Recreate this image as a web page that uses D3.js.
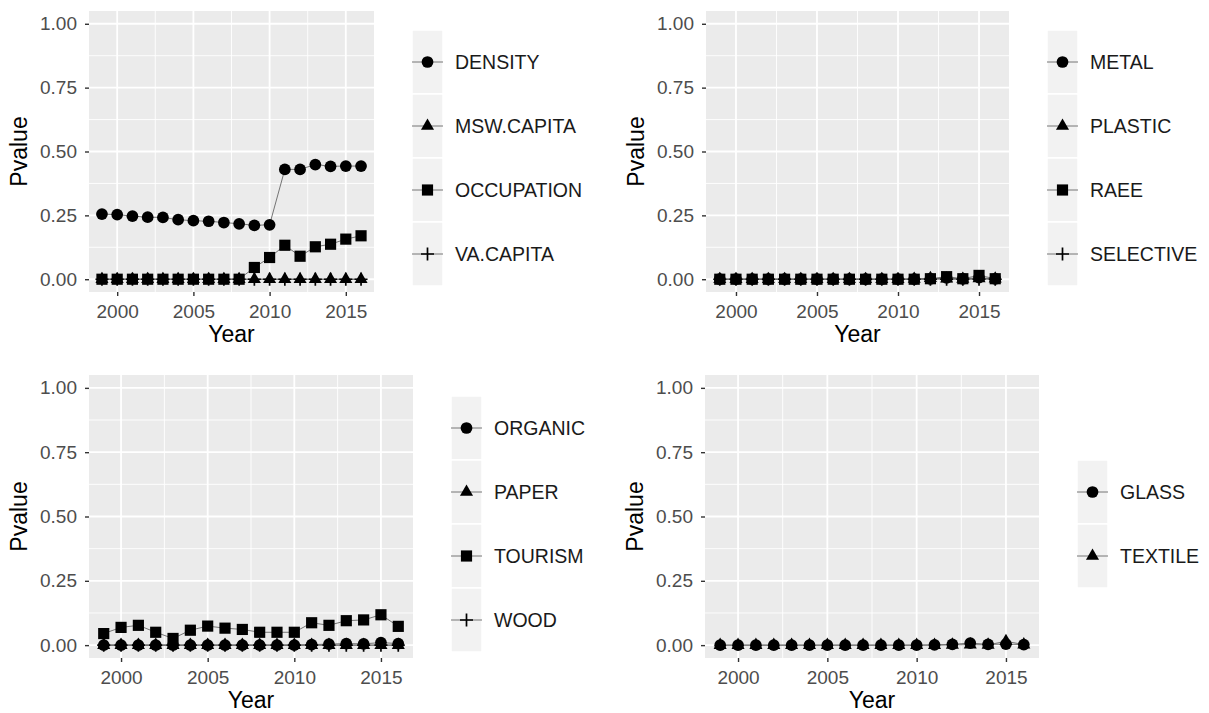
<!DOCTYPE html>
<html>
<head>
<meta charset="utf-8">
<script src="https://cdn.jsdelivr.net/npm/d3@7"></script>
<style>
  html, body { margin: 0; padding: 0; background: #ffffff; }
  svg { display: block; font-family: "Liberation Sans", Arial, sans-serif; }
</style>
</head>
<body>
<svg id="chart" width="1209" height="713"></svg>
<script>
// ---------- data ----------
const years = [1999, 2000, 2001, 2002, 2003, 2004, 2005, 2006, 2007, 2008, 2009, 2010, 2011, 2012, 2013, 2014, 2015, 2016];
const xTicks = [2000, 2005, 2010, 2015];
const yTicks = [0, 0.25, 0.5, 0.75, 1];
const yTickLabels = ["0.00", "0.25", "0.50", "0.75", "1.00"];
const xTitle = "Year";
const yTitle = "Pvalue";

// panel 1
const density    = [0.255, 0.253, 0.247, 0.243, 0.242, 0.233, 0.229, 0.227, 0.222, 0.217, 0.211, 0.213, 0.430, 0.430, 0.449, 0.442, 0.443, 0.443];
const mswCapita  = [0, 0, 0, 0, 0, 0, 0, 0, 0, 0, 0, 0, 0, 0, 0, 0, 0, 0];
const occupation = [0, 0, 0, 0, 0, 0, 0, 0, 0, 0, 0.046, 0.085, 0.133, 0.090, 0.127, 0.137, 0.157, 0.170];
const vaCapita   = [0, 0, 0, 0, 0, 0, 0, 0, 0, 0, 0, 0, 0, 0, 0, 0, 0, 0];
// panel 2
const metal      = [0, 0, 0, 0, 0, 0, 0, 0, 0, 0, 0, 0, 0, 0.001, 0.005, 0.001, 0.006, 0.001];
const plastic    = [0, 0, 0, 0, 0, 0, 0, 0, 0, 0, 0, 0, 0.001, 0.004, 0.002, 0.001, 0.003, 0.002];
const raee       = [0, 0, 0, 0, 0, 0, 0, 0, 0, 0, 0, 0, 0, 0.002, 0.010, 0.002, 0.015, 0.002];
const selective  = [0, 0, 0, 0, 0, 0, 0, 0, 0, 0, 0, 0, 0, 0, 0, 0, 0, 0];
// panel 3
const organic    = [0, 0, 0, 0, 0, 0, 0, 0, 0, 0, 0, 0, 0.002, 0.004, 0.006, 0.005, 0.010, 0.006];
const paper      = [0, 0, 0, 0, 0, 0, 0, 0, 0, 0, 0, 0, 0, 0, 0, 0, 0, 0];
const tourism    = [0.045, 0.069, 0.077, 0.050, 0.026, 0.058, 0.074, 0.066, 0.061, 0.050, 0.050, 0.050, 0.087, 0.077, 0.095, 0.098, 0.118, 0.073];
const wood       = [0, 0, 0, 0, 0, 0, 0, 0, 0, 0, 0, 0, 0, 0, 0, 0, 0, 0];
// panel 4
const glass      = [0, 0, 0, 0, 0, 0, 0, 0, 0, 0, 0, 0, 0.001, 0.003, 0.008, 0.003, 0.004, 0.002];
const textile    = [0, 0, 0, 0, 0, 0, 0, 0, 0, 0, 0, 0, 0, 0.001, 0.002, 0.001, 0.015, 0.002];

const shapes = ["circle", "triangle", "square", "plus"];

// ---------- layout ----------
const panels = [
  { left: 89,  right: 374,  top: 11,  bottom: 292, legendTop: 30,
    series: [["DENSITY", density], ["MSW.CAPITA", mswCapita], ["OCCUPATION", occupation], ["VA.CAPITA", vaCapita]] },
  { left: 706, right: 1009, top: 11,  bottom: 292, legendTop: 30,
    series: [["METAL", metal], ["PLASTIC", plastic], ["RAEE", raee], ["SELECTIVE", selective]] },
  { left: 89,  right: 413,  top: 375, bottom: 658, legendTop: 396,
    series: [["ORGANIC", organic], ["PAPER", paper], ["TOURISM", tourism], ["WOOD", wood]] },
  { left: 705, right: 1039, top: 375, bottom: 658, legendTop: 460,
    series: [["GLASS", glass], ["TEXTILE", textile]] }
];

const svg = d3.select("#chart");

function drawShape(g, shape, x, y) {
  if (shape === "plus") {
    const s = 6.5;
    g.append("path")
      .attr("d", `M${x - s},${y}H${x + s}M${x},${y - s}V${y + s}`)
      .attr("stroke", "#000").attr("stroke-width", 1.7).attr("fill", "none");
  } else {
    const type = shape === "circle" ? d3.symbolCircle : shape === "triangle" ? d3.symbolTriangle : d3.symbolSquare;
    const size = shape === "circle" ? 108 : shape === "triangle" ? 74 : 125;
    g.append("path")
      .attr("d", d3.symbol().type(type).size(size)())
      .attr("transform", `translate(${x},${y})`)
      .attr("fill", "#000");
  }
}

panels.forEach(p => {
  const x = d3.scaleLinear()
    .domain([years[0] - 0.05 * (years[years.length - 1] - years[0]), years[years.length - 1] + 0.05 * (years[years.length - 1] - years[0])])
    .range([p.left, p.right]);
  const y = d3.scaleLinear().domain([-0.05, 1.05]).range([p.bottom, p.top]);
  const g = svg.append("g");

  // background
  g.append("rect").attr("x", p.left).attr("y", p.top)
    .attr("width", p.right - p.left).attr("height", p.bottom - p.top).attr("fill", "#EBEBEB");

  // minor grid
  const minorX = [2002.5, 2007.5, 2012.5];
  const minorY = [0.125, 0.375, 0.625, 0.875];
  g.selectAll(".mnx").data(minorX).enter().append("line")
    .attr("x1", d => x(d)).attr("x2", d => x(d)).attr("y1", p.top).attr("y2", p.bottom)
    .attr("stroke", "#fff").attr("stroke-width", 0.9);
  g.selectAll(".mny").data(minorY).enter().append("line")
    .attr("y1", d => y(d)).attr("y2", d => y(d)).attr("x1", p.left).attr("x2", p.right)
    .attr("stroke", "#fff").attr("stroke-width", 0.9);
  // major grid
  g.selectAll(".mjx").data(xTicks).enter().append("line")
    .attr("x1", d => x(d)).attr("x2", d => x(d)).attr("y1", p.top).attr("y2", p.bottom)
    .attr("stroke", "#fff").attr("stroke-width", 1.8);
  g.selectAll(".mjy").data(yTicks).enter().append("line")
    .attr("y1", d => y(d)).attr("y2", d => y(d)).attr("x1", p.left).attr("x2", p.right)
    .attr("stroke", "#fff").attr("stroke-width", 1.8);

  // axes
  const xAxis = d3.axisBottom(x).tickValues(xTicks).tickFormat(d3.format("d")).tickSize(4).tickPadding(9);
  const ax = g.append("g").attr("transform", `translate(0,${p.bottom})`).call(xAxis);
  ax.select(".domain").remove();
  ax.selectAll("line").attr("stroke", "#333").attr("stroke-width", 1.4);
  ax.selectAll("text").attr("fill", "#4D4D4D").attr("font-size", 19).attr("font-family", "Liberation Sans, Arial, sans-serif");

  const yAxis = d3.axisLeft(y).tickValues(yTicks).tickFormat((d, i) => yTickLabels[i]).tickSize(4).tickPadding(8);
  const ay = g.append("g").attr("transform", `translate(${p.left},0)`).call(yAxis);
  ay.select(".domain").remove();
  ay.selectAll("line").attr("stroke", "#333").attr("stroke-width", 1.4);
  ay.selectAll("text").attr("fill", "#4D4D4D").attr("font-size", 19).attr("font-family", "Liberation Sans, Arial, sans-serif");

  // titles
  g.append("text").attr("x", (p.left + p.right) / 2).attr("y", p.bottom + 50)
    .attr("text-anchor", "middle").attr("font-size", 23).attr("fill", "#000").text(xTitle);
  g.append("text").attr("transform", `translate(${p.left - 62},${(p.top + p.bottom) / 2}) rotate(-90)`)
    .attr("text-anchor", "middle").attr("font-size", 23).attr("fill", "#000").text(yTitle);

  // lines
  const line = d3.line().x((d, i) => x(years[i])).y(d => y(d));
  p.series.forEach(([name, vals]) => {
    g.append("path").attr("d", line(vals)).attr("fill", "none")
      .attr("stroke", "#666").attr("stroke-width", 0.9);
  });
  // points
  p.series.forEach(([name, vals], si) => {
    vals.forEach((v, i) => drawShape(g, shapes[si], x(years[i]), y(v)));
  });

  // legend
  const keyL = p.right + 38, keyW = 31, keyH = 64;
  p.series.forEach(([name], si) => {
    const ky = p.legendTop + si * keyH;
    g.append("rect").attr("x", keyL).attr("y", ky).attr("width", keyW).attr("height", keyH)
      .attr("fill", "#F2F2F2").attr("stroke", "#fff").attr("stroke-width", 1.5);
    const cy = ky + keyH / 2, cx = keyL + keyW / 2;
    g.append("line").attr("x1", keyL).attr("x2", keyL + keyW).attr("y1", cy).attr("y2", cy)
      .attr("stroke", "#666").attr("stroke-width", 0.9);
    drawShape(g, shapes[si], cx, cy);
    g.append("text").attr("x", keyL + 43).attr("y", cy + 7)
      .attr("font-size", 19.5).attr("fill", "#1A1A1A").text(name);
  });
});
</script>
</body>
</html>
